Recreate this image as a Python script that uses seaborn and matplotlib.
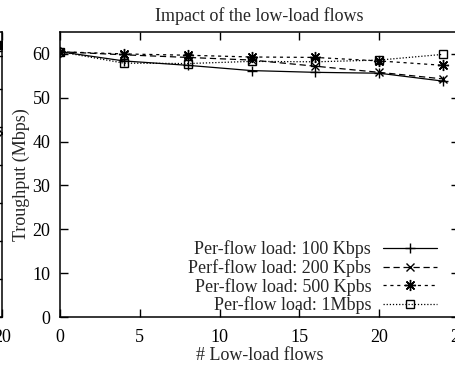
import matplotlib
matplotlib.use("Agg")
import matplotlib.pyplot as plt
import pandas as pd
import seaborn as sns

# ---- data ----
flows = [0, 4, 8, 12, 16, 20, 24]
load_100k = [60.5, 58.4, 57.4, 56.2, 55.8, 55.6, 53.8]
load_200k = [60.5, 59.8, 59.2, 58.6, 57.2, 55.8, 54.3]
load_500k = [60.5, 60.0, 59.7, 59.3, 59.2, 58.4, 57.4]
load_1m = [60.5, 57.9, 57.8, 58.3, 58.2, 58.6, 59.9]
series_labels = ["Per-flow load: 100 Kbps", "Perf-flow load: 200 Kpbs",
                 "Per-flow load: 500 Kpbs", "Per-flow load: 1Mbps"]
x_ticks = [0, 5, 10, 15, 20, 25]
y_ticks = [0, 10, 20, 30, 40, 50, 60]

# neighbouring (cut-off) panel: only its right edge is visible
left_x = [20, 20, 20]
left_vals = [71.6, 69.7, 48.4]
left_y_ticks = [0, 10, 20, 30, 40, 50, 60, 70]

sns.set_theme(style="ticks")
plt.rcParams["font.family"] = ["Liberation Serif", "DejaVu Serif"]
FS = 13

fig = plt.figure(figsize=(4.55, 3.65), dpi=100)
W, H = 455.0, 365.0
ax = fig.add_axes([60 / W, (H - 317) / H, 399 / W, 285 / H])
axl = fig.add_axes([(2 - 399) / W, (H - 317) / H, 399 / W, 285 / H])

styles = [
    dict(marker="+", linestyle="-", markersize=7, mew=1.0),
    dict(marker="x", linestyle=(0, (5, 3)), markersize=6, mew=1.0),
    dict(marker=(8, 2, 0), linestyle=(0, (2.5, 3)), markersize=8, mew=1.0),
    dict(marker="s", linestyle=(0, (1, 1.5)), markersize=5.5, mew=1.0, mfc="none"),
]
all_vals = [load_100k, load_200k, load_500k, load_1m]
for vals, lab, st in zip(all_vals, series_labels, styles):
    df = pd.DataFrame({"flows": flows, "tp": vals})
    sns.lineplot(data=df, x="flows", y="tp", ax=ax, color="black", lw=0.9,
                 mec="black", label=lab, **st)

ax.set_xlim(0, 25)
ax.set_ylim(0, 65)
ax.set_xticks(x_ticks)
ax.set_yticks(y_ticks)
ax.tick_params(direction="in", length=6, width=1, top=True, right=True,
               labelsize=FS, colors="black", pad=9)
ax.tick_params(axis="y", pad=7)
for sp in ax.spines.values():
    sp.set_visible(True)
    sp.set_linewidth(1.1)
    sp.set_color("black")
ax.set_xlabel("# Low-load flows", fontsize=FS, labelpad=0)
ax.set_ylabel("Troughput (Mbps)", fontsize=FS)
ax.yaxis.set_label_coords(-0.074, 0.5)
ax.set_title("Impact of the low-load flows", fontsize=FS, pad=8)

leg = ax.legend(loc="lower right", bbox_to_anchor=(0.945, 0.01), frameon=False,
                markerfirst=False, fontsize=FS, handlelength=3.0,
                handletextpad=0.65, labelspacing=0.04, borderpad=0, borderaxespad=0)

# left, mostly cut-off panel
left_marks = [dict(marker="s", mfc="black", markersize=6),
              dict(marker="s", mfc="none", markersize=5.5),
              dict(marker="x", markersize=6)]
for xv, yv, st in zip(left_x, left_vals, left_marks):
    d = pd.DataFrame({"x": [xv], "y": [yv]})
    sns.lineplot(data=d, x="x", y="y", ax=axl, color="black", mec="black",
                 mew=1.0, linestyle="none", **st)
axl.set_xlim(0, 20)
axl.set_ylim(0, 75)
axl.set_xticks([0, 5, 10, 15, 20])
axl.set_yticks(left_y_ticks)
axl.tick_params(direction="in", length=6, width=1, top=True, right=True,
                labelsize=FS, colors="black", pad=9)
for sp in axl.spines.values():
    sp.set_visible(True)
    sp.set_linewidth(1.1)
    sp.set_color("black")
axl.set_xlabel("")
axl.set_ylabel("")

fig.savefig("out.png", dpi=100)
